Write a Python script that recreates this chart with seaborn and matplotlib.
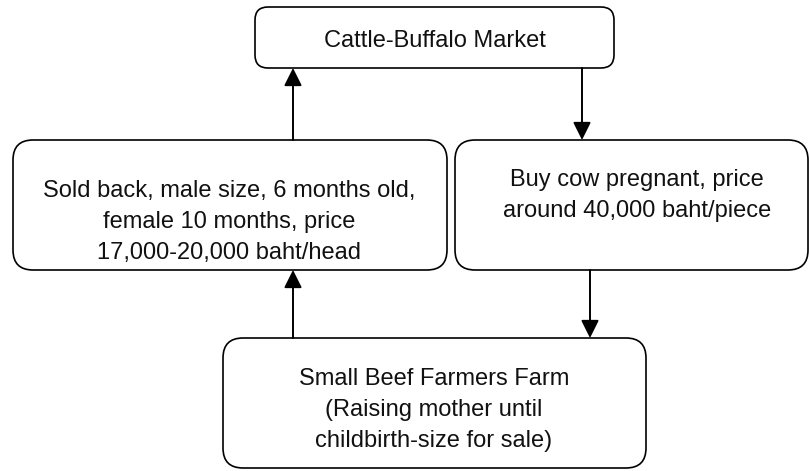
import matplotlib
matplotlib.use("Agg")
import matplotlib.pyplot as plt
import seaborn as sns
from matplotlib.patches import FancyBboxPatch

sns.set_style("white")
plt.rcParams['font.family'] = ['Liberation Sans', 'DejaVu Sans']

# box texts (one list of lines per box)
market_lines = ["Cattle-Buffalo Market"]
sold_lines = ["Sold back, male size, 6 months old,",
              "female 10 months, price",
              "17,000-20,000 baht/head"]
buy_lines = ["Buy cow pregnant, price",
             "around 40,000 baht/piece"]
farm_lines = ["Small Beef Farmers Farm",
              "(Raising mother until",
              "childbirth-size for sale)"]

# layout in pixels: (left, top, right, bottom, corner radius, text x, first baseline, line step)
layout = {
    "market": (255, 7, 614, 68, 13, 435, 47, 0),
    "sold": (13, 140, 447, 270, 20, 229, 197, 31),
    "buy": (455, 140, 808, 270, 20, 637, 186, 31),
    "farm": (223, 338, 646, 468, 20, 434, 385, 31),
}
texts = {"market": market_lines, "sold": sold_lines, "buy": buy_lines, "farm": farm_lines}

# arrows: (x, y from, y to)
arrows = [(293, 140, 68), (582, 68, 140), (293, 338, 270), (590, 270, 338)]

fig = plt.figure(figsize=(8.09, 4.71), dpi=100)
ax = fig.add_axes([0, 0, 1, 1])
ax.set_xlim(0, 809)
ax.set_ylim(471, 0)
ax.axis('off')

for key, (l, t, r, b, rad, tx, ty, step) in layout.items():
    box = FancyBboxPatch((l, t), r - l, b - t,
                         boxstyle=f"round,pad=0,rounding_size={rad}",
                         facecolor='white', edgecolor='black', linewidth=1.2)
    ax.add_patch(box)
    for i, line in enumerate(texts[key]):
        ax.text(tx, ty + i * step, line, ha='center', va='baseline',
                fontsize=17, color='#111111')

for x, y0, y1 in arrows:
    ax.annotate("", xy=(x, y1), xytext=(x, y0),
                arrowprops=dict(arrowstyle='-|>,head_length=0.4,head_width=0.2',
                                mutation_scale=27, color='black', lw=1.4,
                                shrinkA=0, shrinkB=0))

fig.savefig("out.png", dpi=100)
